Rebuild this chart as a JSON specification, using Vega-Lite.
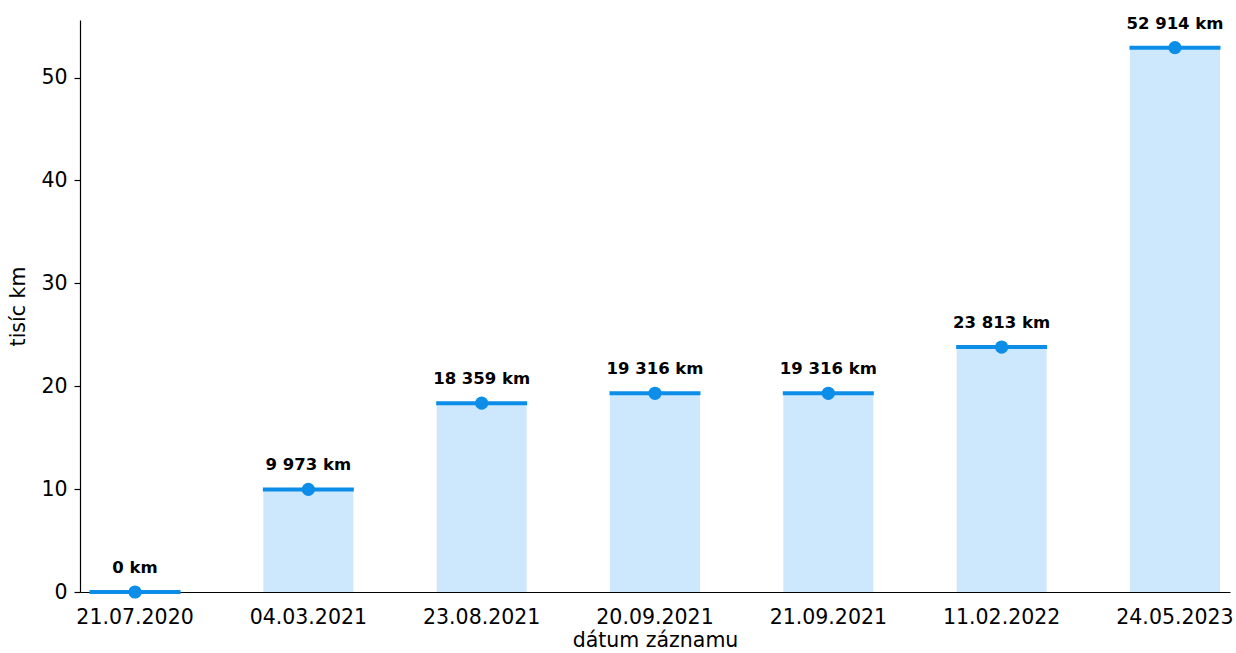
{
  "$schema": "https://vega.github.io/schema/vega-lite/v6.json",
  "width": 1150,
  "height": 572,
  "autosize": {"type": "none"},
  "padding": {"left": 80, "top": 20, "right": 6, "bottom": 61},
  "background": "white",
  "config": {
    "view": {"stroke": null},
    "font": "DejaVu Sans",
    "axis": {"labelFont": "DejaVu Sans", "titleFont": "DejaVu Sans", "labelColor": "black", "titleColor": "black", "domainColor": "black", "tickColor": "black", "titleFontWeight": "normal", "grid": false}
  },
  "data": {
    "values": [
      {"datum": "21.07.2020", "km": 0, "label": "0 km"},
      {"datum": "04.03.2021", "km": 9.973, "label": "9 973 km"},
      {"datum": "23.08.2021", "km": 18.359, "label": "18 359 km"},
      {"datum": "20.09.2021", "km": 19.316, "label": "19 316 km"},
      {"datum": "21.09.2021", "km": 19.316, "label": "19 316 km"},
      {"datum": "11.02.2022", "km": 23.813, "label": "23 813 km"},
      {"datum": "24.05.2023", "km": 52.914, "label": "52 914 km"}
    ]
  },
  "encoding": {
    "x": {
      "field": "datum", "type": "nominal", "sort": null,
      "scale": {"paddingInner": 0.481, "paddingOuter": 0.058},
      "axis": {"title": "dátum záznamu", "labelAngle": 0, "labelFontSize": 20.5, "titleFontSize": 20.5, "ticks": false, "labelPadding": 15, "titlePadding": 3, "domainWidth": 1.2}
    },
    "y": {
      "field": "km", "type": "quantitative",
      "scale": {"domain": [0, 55.6], "nice": false, "zero": true},
      "axis": {"title": "tisíc km", "values": [0, 10, 20, 30, 40, 50], "labelFontSize": 20.5, "titleFontSize": 20.5, "tickSize": 6, "labelPadding": 7, "titlePadding": 12, "domainWidth": 1.2, "tickWidth": 1.2}
    }
  },
  "layer": [
    {"mark": {"type": "bar", "color": "#cde8fc"}},
    {"mark": {"type": "tick", "color": "#0b8de8", "opacity": 1, "thickness": 4, "size": 91}},
    {"mark": {"type": "point", "filled": true, "color": "#0b8de8", "opacity": 1, "size": 175}},
    {"mark": {"type": "text", "fontWeight": "bold", "fontSize": 16.5, "dy": -19, "baseline": "alphabetic", "color": "black"}, "encoding": {"text": {"field": "label"}}}
  ]
}
